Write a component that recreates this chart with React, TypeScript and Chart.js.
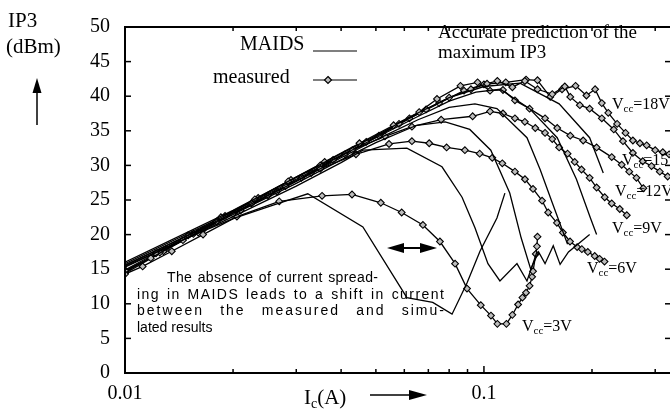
import React, { useEffect, useRef } from 'react';
import { Chart, registerables } from 'chart.js';

Chart.register(...registerables);

// ---------- axis data ----------
const X_MIN = 0.01;
const X_MAX = 0.332;
const Y_MIN = 0;
const Y_MAX = 50;
const Y_STEP = 5;
const X_TICKS = [0.01, 0.02, 0.03, 0.04, 0.05, 0.06, 0.07, 0.08, 0.09, 0.1, 0.2, 0.3];
const X_TICK_LABELS = ['0.01', '0.1'];

// ---------- measured series: [Ic (A), IP3 (dBm)] ----------
const measured3V = [[0.01,14.3],[0.0112,15.4],[0.0135,17.6],[0.0165,20.0],[0.0205,22.6],[0.0269,24.8],[0.0354,25.6],[0.0429,25.8],[0.0516,24.6],[0.059,23.2],[0.0676,21.4],[0.0754,19.0],[0.0831,15.8],[0.0897,12.2],[0.098,9.8],[0.1046,8.3],[0.109,7.1],[0.1155,7.1],[0.12,8.4],[0.1245,9.9],[0.128,10.9],[0.131,11.6],[0.134,12.6],[0.1362,13.9],[0.137,14.7],[0.1395,17.2],[0.1405,18.3],[0.141,19.7]];
const measured6V = [[0.01,14.8],[0.0118,16.6],[0.0145,19.2],[0.018,21.9],[0.0225,24.5],[0.028,27.0],[0.035,29.5],[0.044,31.6],[0.0544,33.1],[0.063,33.5],[0.0704,33.2],[0.0787,32.6],[0.0885,32.2],[0.0973,31.7],[0.1055,31.1],[0.1125,30.3],[0.122,29.1],[0.1301,28.0],[0.137,26.6],[0.1452,24.9],[0.151,23.2],[0.1597,21.7],[0.1659,20.3],[0.1737,19.0],[0.1818,18.2],[0.1874,17.9],[0.1947,17.5],[0.2035,16.9],[0.21,16.5],[0.2167,16.1]];
const measured9V = [[0.01,14.9],[0.0122,17.3],[0.015,19.9],[0.0185,22.5],[0.023,25.1],[0.0285,27.7],[0.035,30.0],[0.043,32.2],[0.053,34.2],[0.063,35.6],[0.076,36.6],[0.093,37.1],[0.104,37.8],[0.113,37.5],[0.122,36.8],[0.13,36.3],[0.139,35.4],[0.148,34.7],[0.155,33.8],[0.162,32.6],[0.171,31.7],[0.179,30.5],[0.187,29.4],[0.197,28.2],[0.206,26.8],[0.217,25.4],[0.227,24.5],[0.239,23.7],[0.25,22.8]];
const measured12V = [[0.01,14.7],[0.0125,17.4],[0.0155,20.1],[0.019,22.7],[0.0235,25.3],[0.029,27.9],[0.036,30.5],[0.045,33.2],[0.056,35.8],[0.066,37.7],[0.074,39.6],[0.086,41.5],[0.096,42.0],[0.104,40.8],[0.113,40.9],[0.122,39.4],[0.134,38.2],[0.148,36.8],[0.16,35.4],[0.174,34.3],[0.189,33.6],[0.206,32.6],[0.227,31.2],[0.242,30.1],[0.254,29.1],[0.266,28.2],[0.278,26.7]];
const measured15V = [[0.01,14.4],[0.0128,17.6],[0.016,20.3],[0.02,23.0],[0.025,25.6],[0.031,28.2],[0.038,30.8],[0.047,33.4],[0.058,36.0],[0.069,38.1],[0.08,39.8],[0.092,41.0],[0.102,41.8],[0.109,42.2],[0.12,41.3],[0.13,42.2],[0.141,41.0],[0.155,40.3],[0.168,41.4],[0.174,39.9],[0.185,38.7],[0.197,38.2],[0.213,36.8],[0.23,35.2],[0.244,33.5],[0.26,31.8],[0.277,30.6],[0.293,29.9],[0.309,29.1],[0.325,28.4]];
const measured18V = [[0.01,14.6],[0.013,17.9],[0.0165,20.7],[0.021,23.5],[0.0265,26.2],[0.033,28.9],[0.041,31.6],[0.051,34.3],[0.062,36.8],[0.075,39.0],[0.088,40.8],[0.1,41.7],[0.115,42.0],[0.131,42.4],[0.141,42.3],[0.153,39.9],[0.165,41.0],[0.18,41.5],[0.193,40.1],[0.204,41.0],[0.213,39.0],[0.222,37.6],[0.235,36.0],[0.248,34.7],[0.26,33.6],[0.272,33.2],[0.284,32.9],[0.3,32.2],[0.315,31.9],[0.328,31.6]];

// ---------- MAIDS simulated series: [Ic (A), IP3 (dBm)] ----------
const maids3V = [[0.01,15.4],[0.015,19.6],[0.02,22.3],[0.026,24.3],[0.0323,25.9],[0.046,21.1],[0.061,10.9],[0.072,10.2],[0.0815,8.5],[0.0897,13.0],[0.0975,17.6],[0.1087,22.4],[0.1144,26.0]];
const maids6V = [[0.01,15.3],[0.02,22.6],[0.03,27.0],[0.04,30.4],[0.046,32.2],[0.061,32.5],[0.0764,29.8],[0.0869,25.4],[0.0944,21.0],[0.1026,15.8],[0.1108,13.3],[0.1236,15.8],[0.1318,13.3],[0.1405,17.5]];
const maids9V = [[0.01,15.6],[0.02,22.9],[0.03,27.4],[0.04,30.8],[0.05,33.3],[0.065,35.8],[0.078,36.3],[0.0913,35.2],[0.1045,32.2],[0.118,26.0],[0.127,19.5],[0.135,15.0],[0.142,17.5],[0.148,15.8],[0.156,18.4],[0.163,15.7],[0.172,17.5],[0.197,20.0]];
const maids12V = [[0.01,15.5],[0.02,23.1],[0.03,27.7],[0.04,31.1],[0.05,33.7],[0.0655,36.6],[0.08,38.4],[0.0944,38.9],[0.1087,38.2],[0.1318,34.0],[0.1434,29.4],[0.155,24.6],[0.171,18.6]];
const maids15V = [[0.01,15.8],[0.02,23.3],[0.03,28.0],[0.04,31.4],[0.05,34.0],[0.065,37.0],[0.08,39.3],[0.095,40.6],[0.111,41.0],[0.134,38.2],[0.16,34.0],[0.181,28.0],[0.198,22.4],[0.206,20.0]];
const maids18V = [[0.01,16.0],[0.02,23.5],[0.03,28.3],[0.04,31.7],[0.05,34.3],[0.065,37.5],[0.08,39.8],[0.1,41.4],[0.126,41.9],[0.162,38.9],[0.197,34.0],[0.215,28.9]];

const VCC_LABELS = ['18V', '15V', '12V', '9V', '6V', '3V'];

const SERIF = '"Liberation Serif", "Times New Roman", serif';
const SANS = '"Liberation Sans", Arial, sans-serif';

type Run = [string, number, number];

function drawRuns(ctx: CanvasRenderingContext2D, runs: Run[], x: number, y: number) {
  let cx = x;
  for (const [t, size, dy] of runs) {
    ctx.font = `${size}px ${SERIF}`;
    ctx.fillText(t, cx, y + dy);
    cx += ctx.measureText(t).width;
  }
}

function justify(ctx: CanvasRenderingContext2D, text: string, x: number, y: number, width: number, wordWeight: number) {
  const chars = Array.from(text);
  const natural = ctx.measureText(text).width;
  let weights = 0;
  for (let i = 0; i < chars.length - 1; i++) weights += chars[i] === ' ' ? wordWeight : 1;
  const unit = weights > 0 ? (width - natural) / weights : 0;
  let cx = x;
  for (let i = 0; i < chars.length; i++) {
    ctx.fillText(chars[i], cx, y);
    cx += ctx.measureText(chars[i]).width + (chars[i] === ' ' ? wordWeight : 1) * unit;
  }
}

function seg(ctx: CanvasRenderingContext2D, x1: number, y1: number, x2: number, y2: number) {
  ctx.beginPath();
  ctx.moveTo(x1, y1);
  ctx.lineTo(x2, y2);
  ctx.stroke();
}

function tri(ctx: CanvasRenderingContext2D, pts: number[][]) {
  ctx.beginPath();
  ctx.moveTo(pts[0][0], pts[0][1]);
  for (let i = 1; i < pts.length; i++) ctx.lineTo(pts[i][0], pts[i][1]);
  ctx.closePath();
  ctx.fill();
}

const framePlugin = {
  id: 'frameAndNotes',
  afterDraw(chart: any) {
    const { ctx, chartArea: a, scales } = chart;
    const xs = scales.x;
    const ys = scales.y;
    ctx.save();
    ctx.strokeStyle = '#000';
    ctx.fillStyle = '#000';
    ctx.lineWidth = 2;
    ctx.strokeRect(a.left, a.top, a.right - a.left, a.bottom - a.top);
    ctx.lineWidth = 1.5;
    ys.ticks.forEach((t: any) => {
      const y = ys.getPixelForValue(t.value);
      seg(ctx, a.left, y, a.left + 6, y);
      seg(ctx, a.right, y, a.right - 6, y);
    });
    X_TICKS.forEach((v) => {
      const x = xs.getPixelForValue(v);
      const L = v === 0.1 ? 7 : 4;
      seg(ctx, x, a.bottom, x, a.bottom - L);
      seg(ctx, x, a.top, x, a.top + L);
    });

    ctx.textBaseline = 'alphabetic';
    ctx.textAlign = 'left';
    // y title
    ctx.font = `21px ${SERIF}`;
    ctx.fillText('IP3', 8, 27);
    ctx.fillText('(dBm)', 6, 53);
    ctx.lineWidth = 1.5;
    seg(ctx, 37, 125, 37, 90);
    tri(ctx, [[37, 78], [32.5, 93], [41.5, 93]]);
    // x title
    drawRuns(ctx, [['I', 21, 0], ['c', 14, 4], ['(A)', 21, 0]], 304, 404);
    seg(ctx, 370, 395, 412, 395);
    tri(ctx, [[427, 395], [409, 390], [409, 400]]);

    // legend
    ctx.font = `20px ${SERIF}`;
    ctx.fillText('MAIDS', 240, 50);
    ctx.fillText('measured', 213, 83);
    ctx.lineWidth = 1.2;
    seg(ctx, 313, 51, 357, 51);
    seg(ctx, 313, 80, 357, 80);
    ctx.beginPath();
    ctx.moveTo(328, 76.5); ctx.lineTo(331.5, 80); ctx.lineTo(328, 83.5); ctx.lineTo(324.5, 80); ctx.closePath();
    ctx.fillStyle = '#bdbdbd';
    ctx.fill();
    ctx.stroke();
    ctx.fillStyle = '#000';

    // top note
    ctx.font = `19px ${SERIF}`;
    ctx.fillText('Accurate prediction of the', 438, 38);
    ctx.fillText('maximum IP3', 438, 58);

    // Vcc labels
    const pos: number[][] = [[612, 109], [622, 165], [615, 196], [612, 233], [587, 273], [522, 331]];
    VCC_LABELS.forEach((lab, i) => {
      drawRuns(ctx, [['V', 16, 0], ['cc', 11, 3], ['=' + lab, 16, 0]], pos[i][0], pos[i][1]);
    });

    // paragraph
    ctx.font = `14px ${SANS}`;
    justify(ctx, 'The absence of current spread-', 167, 282, 211, 4);
    justify(ctx, 'ing in MAIDS leads to a shift in current', 137, 299, 307, 2);
    justify(ctx, 'between the measured and simu-', 137, 315, 307, 6);
    ctx.fillText('lated results', 137, 332);

    // double arrow
    ctx.lineWidth = 2;
    seg(ctx, 398, 248, 426, 248);
    tri(ctx, [[387, 248], [404, 243], [404, 253]]);
    tri(ctx, [[437, 248], [420, 243], [420, 253]]);
    ctx.restore();
  },
};

function toXY(d: number[][]) {
  return d.map(([x, y]) => ({ x, y }));
}

export default function App() {
  const ref = useRef<HTMLCanvasElement>(null);
  useEffect(() => {
    const canvas = ref.current;
    if (!canvas) return;
    const maids: [string, number[][]][] = [
      ['3V', maids3V], ['6V', maids6V], ['9V', maids9V], ['12V', maids12V], ['15V', maids15V], ['18V', maids18V],
    ];
    const meas: [string, number[][]][] = [
      ['3V', measured3V], ['6V', measured6V], ['9V', measured9V], ['12V', measured12V], ['15V', measured15V], ['18V', measured18V],
    ];
    const datasets: any[] = [
      ...maids.map(([n, d]) => ({
        label: 'MAIDS ' + n,
        data: toXY(d),
        borderColor: '#000',
        borderWidth: 1.3,
        pointRadius: 0,
        tension: 0,
        fill: false,
      })),
      ...meas.map(([n, d]) => ({
        label: 'measured ' + n,
        data: toXY(d),
        borderColor: '#000',
        borderWidth: 1.3,
        pointStyle: 'rectRot',
        pointRadius: 3.4,
        pointBackgroundColor: '#bdbdbd',
        pointBorderColor: '#000',
        pointBorderWidth: 1.1,
        tension: 0,
        fill: false,
      })),
    ];
    const chart = new Chart(canvas, {
      type: 'line',
      data: { datasets },
      options: {
        animation: false,
        responsive: false,
        devicePixelRatio: 1,
        layout: { padding: { left: 0, top: 17, right: 9, bottom: 0 } },
        plugins: { legend: { display: false }, tooltip: { enabled: false } },
        scales: {
          x: {
            type: 'logarithmic',
            min: X_MIN,
            max: X_MAX,
            grid: { display: false, drawTicks: false },
            border: { display: false },
            afterBuildTicks: (s: any) => {
              s.ticks = X_TICKS.map((v) => ({ value: v }));
            },
            afterFit: (s: any) => {
              s.height = 42;
            },
            ticks: {
              autoSkip: false,
              maxRotation: 0,
              padding: 9,
              color: '#000',
              font: { family: SERIF, size: 20 },
              callback: (v: any) => {
                const s = String(Number(v));
                return X_TICK_LABELS.includes(s) ? s : '';
              },
            },
          },
          y: {
            type: 'linear',
            min: Y_MIN,
            max: Y_MAX,
            grid: { display: false, drawTicks: false },
            border: { display: false },
            afterFit: (s: any) => {
              s.width = 125;
            },
            ticks: {
              stepSize: Y_STEP,
              padding: 15,
              color: '#000',
              font: { family: SERIF, size: 20 },
            },
          },
        },
      },
      plugins: [framePlugin],
    });
    return () => chart.destroy();
  }, []);
  return (
    <div style={{ position: 'fixed', left: 0, top: 0, width: 670, height: 415, overflow: 'hidden', background: '#fff' }}>
      <canvas ref={ref} width={680} height={415} style={{ display: 'block', width: 680, height: 415 }} />
    </div>
  );
}
